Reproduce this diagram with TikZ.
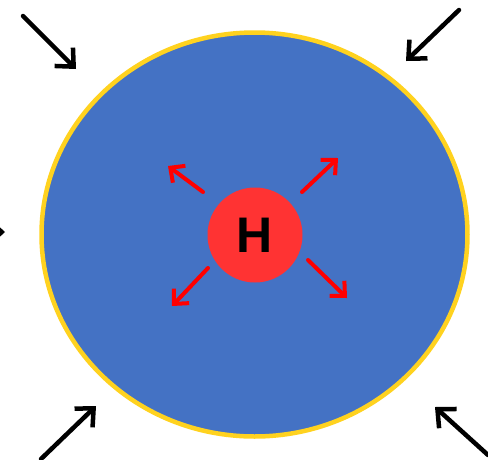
\documentclass[tikz,border=0pt]{standalone}
\usepackage{fontspec}
\setsansfont{Liberation Sans}
\usepackage{xcolor}
\usetikzlibrary{arrows.meta, positioning}

\definecolor{bodyblue}{HTML}{4472C4}
\definecolor{rimyellow}{HTML}{FFD21F}
\definecolor{corered}{HTML}{FF3333}

\tikzset{
  press/.style={line width=4.5pt, black, line cap=round, -{Straight Barb[length=14pt, width=26pt, line width=4.5pt]}},
  push/.style={line width=4pt, red, line cap=round, -{Straight Barb[length=11pt, width=21pt, line width=4pt]}}
}

\begin{document}
\begin{tikzpicture}[x=1pt, y=-1pt]
	\useasboundingbox (0,0) rectangle (488,459);
	\clip (0,0) rectangle (488,459);
	% outer body
	\draw[rimyellow, fill=bodyblue, line width=4.5pt] (254.5,234.5) ellipse [x radius=213, y radius=202];
	% core
	\node[circle, fill=corered, minimum size=95pt, inner sep=0pt, font=\sffamily\bfseries\fontsize{50}{50}\selectfont] (core) at (255,235) {H};
	% outward push
	\coordinate (ul0) at (203,192); \coordinate (ul1) at (168,166);
	\coordinate (ur0) at (302,192); \coordinate (ur1) at (338,158);
	\coordinate (ll0) at (208,268); \coordinate (ll1) at (172,306);
	\coordinate (lr0) at (308,260); \coordinate (lr1) at (347,298);
	\draw[push] (ul0) -- (ul1);
	\draw[push] (ur0) -- (ur1);
	\draw[push] (ll0) -- (ll1);
	\draw[push] (lr0) -- (lr1);
	% inward press
	\coordinate (a0) at (23,16);   \coordinate (a1) at (76,69);
	\coordinate (b0) at (459,10);  \coordinate (b1) at (406,61);
	\coordinate (c0) at (-60,232); \coordinate (c1) at (5,232);
	\coordinate (d0) at (41,459);  \coordinate (d1) at (96,406);
	\coordinate (e0) at (488,455); \coordinate (e1) at (435,407);
	\draw[press] (a0) -- (a1);
	\draw[press] (b0) -- (b1);
	\draw[press] (c0) -- (c1);
	\draw[press] (d0) -- (d1);
	\draw[press] (e0) -- (e1);
\end{tikzpicture}
\end{document}
